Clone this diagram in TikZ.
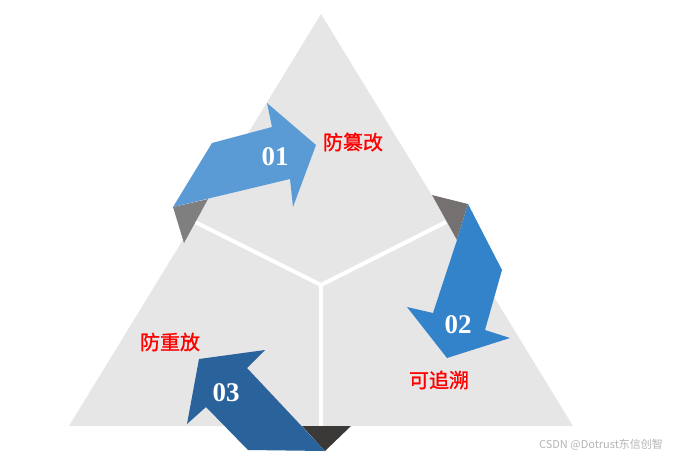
\documentclass[tikz,border=0pt]{standalone}
\usepackage{fontspec}
\setmainfont{Liberation Serif}
\newfontfamily\cjk{Noto Sans CJK SC}
\newfontfamily\cjkb[FakeBold=1.2]{Noto Sans CJK SC}
\definecolor{tri}{HTML}{E7E6E6}
\definecolor{aone}{HTML}{5B9BD5}
\definecolor{atwo}{HTML}{3383CA}
\definecolor{athree}{HTML}{2A629C}
\definecolor{tabone}{HTML}{7F7F7F}
\definecolor{tabtwo}{HTML}{767171}
\definecolor{tabthree}{HTML}{3B3838}
\definecolor{wm}{HTML}{B4B4B4}
\tikzset{
  num/.style={text=white, font=\bfseries\fontsize{27}{27}\selectfont, inner sep=0pt},
  lab/.style={text=red, font=\cjkb\fontsize{20}{20}\selectfont, inner sep=0pt},
  spoke/.style={white, line width=4pt},
}
\begin{document}
\begin{tikzpicture}[x=1pt,y=-1pt]
\useasboundingbox (0,0) rectangle (678,459);
% triangle
\fill[tri] (69,426) -- (573,426) -- (321,14) -- cycle;
% Y spokes
\coordinate (c) at (321,285);
\coordinate (sl) at (195,222);
\coordinate (sr) at (446,222);
\coordinate (sb) at (321,426);
\draw[spoke] (c) -- (sl);
\draw[spoke] (c) -- (sr);
\draw[spoke] (c) -- (sb);
% tabs
\fill[tabone] (173,207) -- (208,199) -- (184,243) -- cycle;
\fill[tabtwo] (432,195) -- (468,204) -- (457,240) -- cycle;
\fill[tabthree] (302,426) -- (351,426) -- (325,451) -- cycle;
% arrow 1
\fill[aone] (173,207) -- (212,143) -- (272,127) -- (267,103) -- (316,145)
  -- (293,207) -- (290,179) -- cycle;
% arrow 2
\fill[atwo] (468,204) -- (502,270) -- (485,330) -- (510,338) -- (447,358)
  -- (407,307) -- (433,313) -- (457,240) -- cycle;
% arrow 3
\fill[athree] (325,451) -- (248,450) -- (206,407) -- (187,424) -- (199,359)
  -- (265,350) -- (247,368) -- cycle;
% numbers
\node[num] (n1) at (275,157) {01};
\node[num] (n2) at (458,325) {02};
\node[num] (n3) at (226,393) {03};
% labels
\node[lab] (l1) at (353,142) {防篡改};
\node[lab] (l2) at (439,380) {可追溯};
\node[lab] (l3) at (170,342) {防重放};
\node[text=wm, font=\cjk\fontsize{11}{11}\selectfont, inner sep=0pt] (wmk) at (601,445) {CSDN @Dotrust东信创智};
\end{tikzpicture}
\end{document}
